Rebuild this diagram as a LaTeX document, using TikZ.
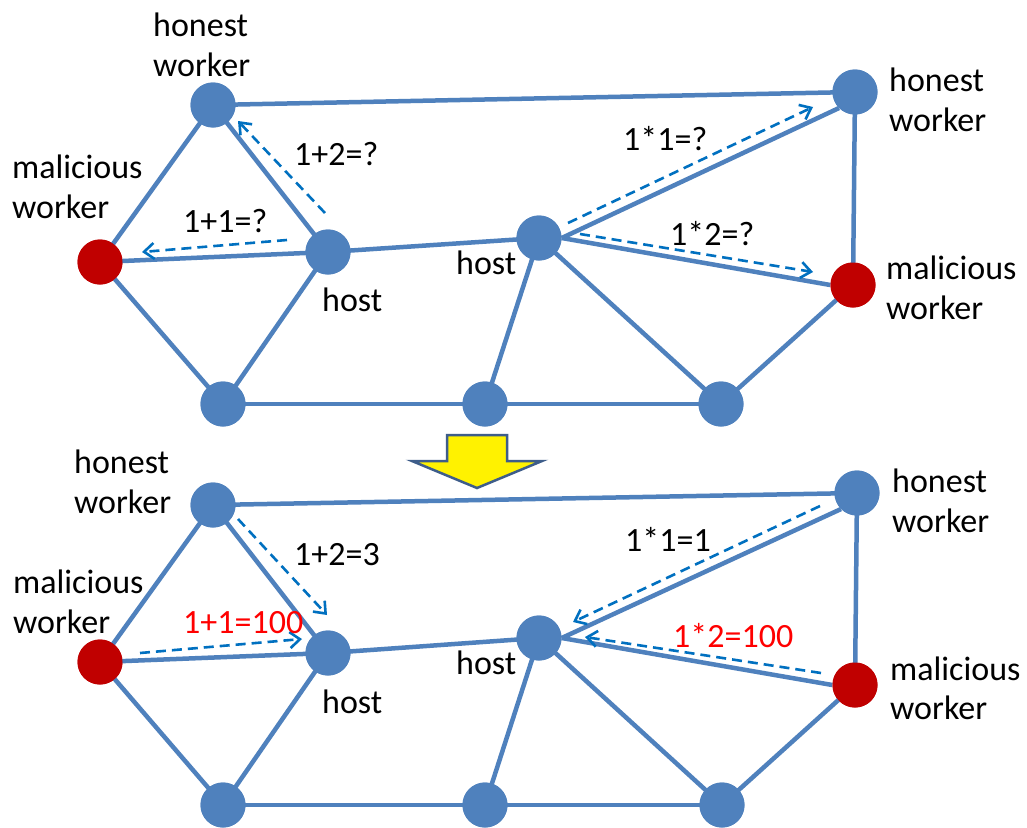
\documentclass[tikz,border=0pt]{standalone}
\usepackage{fontspec}
\setmainfont{Carlito}
\usetikzlibrary{arrows.meta}
\definecolor{nodeblue}{HTML}{4F81BD}
\definecolor{malred}{HTML}{C00000}
\definecolor{dashblue}{HTML}{0070C0}
\definecolor{arrowborder}{HTML}{3E5D8A}
\definecolor{txtred}{HTML}{FF0000}
\begin{document}
\begin{tikzpicture}[x=1pt,y=-1pt,
  edge/.style={draw=nodeblue, line width=4.5pt},
  vert/.style={circle, fill=nodeblue, minimum size=45pt, inner sep=0pt},
  bad/.style={vert, fill=malred},
  msg/.style={draw=dashblue, line width=2.6pt, dash pattern=on 10pt off 6pt,
    -{Straight Barb[length=10pt,width=16pt,line width=2.6pt]}},
  lbl/.style={anchor=base west, inner sep=0pt, font=\fontsize{34}{40}\selectfont},
  redlbl/.style={lbl, text=txtred}]
\useasboundingbox[fill=white] (0,0) rectangle (1027,827);

% ---------- top network ----------
\node[vert] (hw1) at (213,105) {};
\node[bad]  (m1)  at (100,262) {};
\node[vert] (h1)  at (328,252) {};
\node[vert] (b1)  at (223,404) {};
\node[vert] (b2)  at (485,404) {};
\node[vert] (h2)  at (539,238) {};
\node[vert] (b3)  at (721,404) {};
\node[vert] (hw2) at (855,92) {};
\node[bad]  (m2)  at (853,285) {};

% ---------- bottom network ----------
\node[vert] (hw1b) at (213,505) {};
\node[bad]  (m1b)  at (100,662) {};
\node[vert] (h1b)  at (328,653) {};
\node[vert] (b1b)  at (223,805) {};
\node[vert] (b2b)  at (485,805) {};
\node[vert] (h2b)  at (539,638) {};
\node[vert] (b3b)  at (722,805) {};
\node[vert] (hw2b) at (857,493) {};
\node[bad]  (m2b)  at (855,685) {};

% edges (nodes redrawn on top)
\foreach \s in {,b}{
  \draw[edge] (hw1\s.center) -- (hw2\s.center);
  \draw[edge] (hw1\s.center) -- (m1\s.center);
  \draw[edge] (hw1\s.center) -- (h1\s.center);
  \draw[edge] (m1\s.center) -- (h1\s.center);
  \draw[edge] (m1\s.center) -- (b1\s.center);
  \draw[edge] (h1\s.center) -- (b1\s.center);
  \draw[edge] (h1\s.center) -- (h2\s.center);
  \draw[edge] (b1\s.center) -- (b2\s.center);
  \draw[edge] (b2\s.center) -- (h2\s.center);
  \draw[edge] (b2\s.center) -- (b3\s.center);
  \draw[edge] (h2\s.center) -- (b3\s.center);
  \draw[edge] (h2\s.east) -- (hw2\s.south west);
  \draw[edge] (h2\s.east) -- (m2\s.west);
  \draw[edge] (hw2\s.center) -- (m2\s.center);
  \draw[edge] (m2\s.center) -- (b3\s.center);
}
\foreach \n in {hw1,h1,b1,b2,h2,b3,hw2}{
  \fill[nodeblue] (\n.center) circle (22.5pt);
  \fill[nodeblue] (\n b.center) circle (22.5pt);
}
\foreach \n in {m1,m2}{
  \fill[malred] (\n.center) circle (22.5pt);
  \fill[malred] (\n b.center) circle (22.5pt);
}

% ---------- message arrows ----------
\coordinate (a1s) at (325,213); \coordinate (a1e) at (238,121);
\coordinate (a2s) at (287,240); \coordinate (a2e) at (142,252);
\coordinate (a3s) at (568,223); \coordinate (a3e) at (813,107);
\coordinate (a4s) at (580,234); \coordinate (a4e) at (813,272);
\draw[msg] (a1s) -- (a1e);
\draw[msg] (a2s) -- (a2e);
\draw[msg] (a3s) -- (a3e);
\draw[msg] (a4s) -- (a4e);

\coordinate (c1s) at (238,519); \coordinate (c1e) at (327,615);
\coordinate (c2s) at (140,653); \coordinate (c2e) at (302,639);
\coordinate (c3s) at (820,506); \coordinate (c3e) at (573,622);
\coordinate (c4s) at (821,673); \coordinate (c4e) at (585,637);
\draw[msg] (c1s) -- (c1e);
\draw[msg] (c2s) -- (c2e);
\draw[msg] (c3s) -- (c3e);
\draw[msg] (c4s) -- (c4e);

% ---------- yellow arrow ----------
\draw[fill=yellow, draw=arrowborder, line width=2.5pt, line join=miter]
  (447,435) -- (507,435) -- (507,461) -- (542,461) -- (477,488)
  -- (412,461) -- (447,461) -- cycle;

% ---------- labels top ----------
\node[lbl] (t1) at (153,36) {honest};
\node[lbl] (t2) at (153,76) {worker};
\node[lbl] (t3) at (12,178) {malicious};
\node[lbl] (t4) at (12,218) {worker};
\node[lbl] (t5) at (294,165) {1+2=?};
\node[lbl] (t6) at (183,232) {1+1=?};
\node[lbl] (t7) at (322,311) {host};
\node[lbl] (t8) at (456,274) {host};
\node[lbl] (t9) at (623,150) {1*1=?};
\node[lbl] (t10) at (670,245) {1*2=?};
\node[lbl] (t11) at (889,91) {honest};
\node[lbl] (t12) at (889,131) {worker};
\node[lbl] (t13) at (886,279) {malicious};
\node[lbl] (t14) at (886,319) {worker};

% ---------- labels bottom ----------
\node[lbl] (u1) at (74,473) {honest};
\node[lbl] (u2) at (74,513) {worker};
\node[lbl] (u3) at (13,593) {malicious};
\node[lbl] (u4) at (13,633) {worker};
\node[lbl] (u5) at (294,565) {1+2=3};
\node[redlbl] (u6) at (183,633) {1+1=100};
\node[lbl] (u7) at (322,713) {host};
\node[lbl] (u8) at (456,674) {host};
\node[lbl] (u9) at (625,551) {1*1=1};
\node[redlbl] (u10) at (673,647) {1*2=100};
\node[lbl] (u11) at (892,492) {honest};
\node[lbl] (u12) at (892,532) {worker};
\node[lbl] (u13) at (890,680) {malicious};
\node[lbl] (u14) at (890,719) {worker};
\end{tikzpicture}
\end{document}
